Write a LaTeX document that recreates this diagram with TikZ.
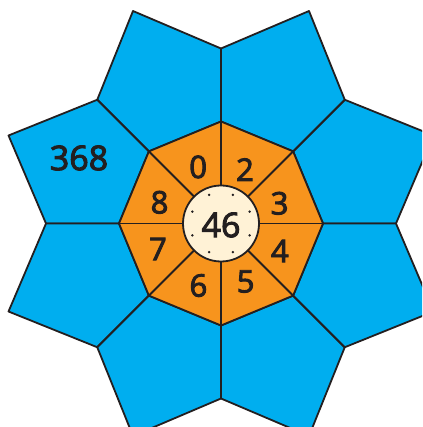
\documentclass[tikz,border=0pt]{standalone}
\usepackage{fontspec}
\setmainfont{Open Sans}
\newfontfamily\digitfont{Open Sans}[FakeBold=3]
\usepackage{tikz}
\usetikzlibrary{positioning}
\definecolor{cPetal}{HTML}{00AEEF}
\definecolor{cRing}{HTML}{F7941D}
\definecolor{cHub}{HTML}{FFF2D6}
\definecolor{cInk}{HTML}{231F20}
\tikzset{
  petal/.style ={fill=cPetal, draw=cInk, line width=1.8pt, line join=round},
  ring/.style  ={fill=cRing, draw=cInk, line width=1.8pt, line join=round},
  spoke/.style ={draw=cInk, line width=1.8pt},
  hub/.style   ={circle, fill=cHub, draw=cInk, line width=1.8pt,
                 minimum size=76pt, inner sep=0pt},
  tick/.style  ={circle, fill=cInk, inner sep=0pt, minimum size=2.6pt},
  digit/.style ={font=\digitfont\fontsize{31}{31}\selectfont, text=cInk, inner sep=0pt},
  big/.style   ={font=\digitfont\fontsize{34}{34}\selectfont, text=cInk, inner sep=0pt},
}

\begin{document}
\begin{tikzpicture}[x=1pt,y=1pt]
  \useasboundingbox (-221,-203.5) rectangle (201,223.5);
  \clip (-221,-203.5) rectangle (201,223.5);

  % outer petals, one on each side of the octagon
  \foreach \a in {0,45,...,315}{
    \draw[petal] (\a:102) -- (\a:175) -- (\a+22.5:230) -- (\a+45:175)
                 -- (\a+45:102) -- cycle;
  }

  % orange octagon and its spokes
  \draw[ring] (0:102) \foreach \a in {45,90,...,315}{ -- (\a:102)} -- cycle;
  \foreach \a in {0,45,...,315}
    \draw[spoke] (\a:38) -- (\a:102);

  % centre
  \node[hub] (hub) at (0,0) {};
  \foreach \a [count=\i] in {22.5,67.5,...,337.5}
    \node[tick] (tick\i) at (\a:31) {};
  \node[big] (total) at (0,-1.5) {46};

  % digits round the ring
  \foreach \a/\r/\d in {112/61/0, 66/59/2, 19/62/3, -25/65/4,
                        -67/63/5, -110/66/6, -158/68/7, 161/65/8}
    \node[digit] (d\d) at (\a:\r) {\d};

  \node[big] (prod) at (-142,65.5) {368};
\end{tikzpicture}
\end{document}
